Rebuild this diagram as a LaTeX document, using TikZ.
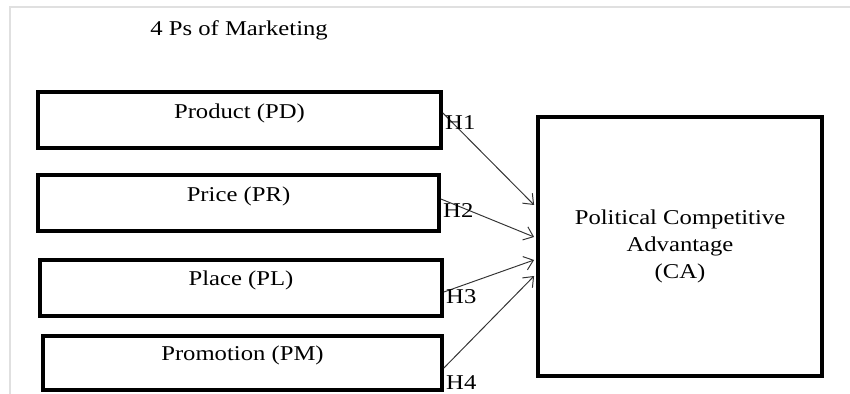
\documentclass[tikz,border=0pt]{standalone}
\usepackage{fontspec}
\setmainfont{Liberation Serif}[FakeStretch=1.17]
\usetikzlibrary{calc, arrows.meta}
\begin{document}
\begin{tikzpicture}[
    x=0.02cm, y=-0.02cm,
    font=\fontsize{12}{15.3}\selectfont,
    pbox/.style={draw, line width=2.2pt, minimum height=1.12cm, inner sep=0pt},
    link/.style={-{Straight Barb[length=5pt, width=8pt]}, line width=0.55pt, black!80},
    hlab/.style={anchor=west, inner sep=0pt},
  ]
    \useasboundingbox (0,0) rectangle (850,394);
    % screenshot frame
    \draw[black!12, line width=1pt] (10,394) -- (10,7) -- (850,7);
    \node[anchor=west, inner sep=0pt] (title) at (150,30) {4 Ps of Marketing};
    % the four Ps
    \node[pbox, minimum width=8.06cm, label={[yshift=0.14cm]center:Product (PD)}] (pd) at (239.5,120) {};
    \node[pbox, minimum width=8.02cm, label={[yshift=0.14cm]center:Price (PR)}] (pr) at (238.5,203) {};
    \node[pbox, minimum width=8.04cm, label={[yshift=0.16cm]center:Place (PL)}] (pl) at (241,288) {};
    \node[pbox, minimum width=7.98cm, minimum height=1.08cm, label={[yshift=0.16cm]center:Promotion (PM)}] (pm) at (242.5,363) {};
    % outcome
    \node[pbox, minimum width=5.68cm, minimum height=5.18cm, align=center] (ca) at (680,246.5)
      {Political Competitive\\Advantage\\(CA)};
    % hypotheses
    \foreach \b/\s/\t/\h/\n in {pd/-7/-41.5/3/1, pr/-4/-9.5/8/2, pl/4/13.5/9/3, pm/5/29.5/20/4} {
      \draw[link] ($(\b.east)+(0,\s)$) -- ($(ca.west)+(-2,\t)$);
      \node[hlab] (h\n) at ($(\b.east)+(2,\h)$) {H\n};
    }
  \end{tikzpicture}
\end{document}
